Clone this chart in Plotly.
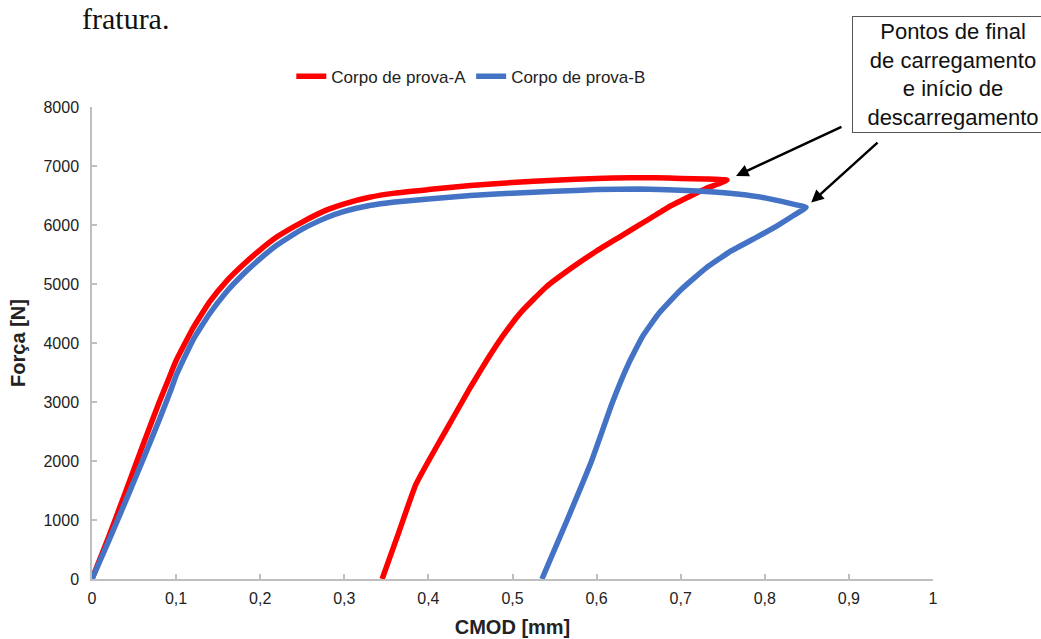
import plotly.graph_objects as go

# CMOD [mm] vs force [N] for the two specimens (loading branch, then unloading branch)
a_load_x = [0, 0.02, 0.04, 0.06, 0.08, 0.09, 0.1, 0.12, 0.14, 0.16, 0.18, 0.2, 0.22, 0.25,
            0.28, 0.3, 0.33, 0.36, 0.4, 0.45, 0.5, 0.55, 0.6, 0.64, 0.67, 0.7, 0.73, 0.755]
a_load_y = [0, 720, 1480, 2250, 3000, 3350, 3700, 4250, 4700, 5050, 5330, 5580, 5800, 6050,
            6260, 6360, 6470, 6540, 6600, 6670, 6720, 6760, 6790, 6800, 6800, 6790, 6780, 6760]
a_unload_x = [0.755, 0.745, 0.73, 0.71, 0.685, 0.66, 0.63, 0.6, 0.57, 0.54, 0.51, 0.49, 0.47,
              0.45, 0.43, 0.41, 0.385, 0.365, 0.345]
a_unload_y = [6760, 6700, 6620, 6480, 6300, 6080, 5820, 5560, 5270, 4950, 4520, 4150, 3720,
              3250, 2750, 2250, 1600, 800, 0]

b_load_x = [0, 0.02, 0.04, 0.06, 0.08, 0.095, 0.1, 0.12, 0.14, 0.16, 0.18, 0.2, 0.22, 0.25,
            0.28, 0.3, 0.33, 0.36, 0.4, 0.45, 0.5, 0.55, 0.6, 0.65, 0.7, 0.74, 0.77, 0.8,
            0.82, 0.835, 0.849]
b_load_y = [0, 650, 1320, 2000, 2700, 3250, 3450, 4050, 4500, 4870, 5170, 5430, 5660, 5930,
            6130, 6230, 6330, 6390, 6440, 6500, 6540, 6570, 6600, 6610, 6590, 6560, 6520, 6460,
            6400, 6350, 6300]
b_unload_x = [0.849, 0.835, 0.815, 0.79, 0.76, 0.73, 0.70, 0.675, 0.655, 0.638, 0.619,
              0.594, 0.565, 0.535]
b_unload_y = [6300, 6170, 5990, 5790, 5560, 5270, 4900, 4520, 4120, 3650, 3000,
              2000, 1000, 0]

series_names = ["Corpo de prova-A", "Corpo de prova-B"]
series_colors = ["#FF0000", "#4472C4"]
note_lines = ["Pontos de final", "de carregamento", "e início de", "descarregamento"]

FONT = "Liberation Sans, Arial, sans-serif"
AXIS_GREY = "#BFBFBF"

fig = go.Figure()
for name, color, xs, ys in [
    (series_names[0], series_colors[0], a_load_x + a_unload_x[1:], a_load_y + a_unload_y[1:]),
    (series_names[1], series_colors[1], b_load_x + b_unload_x[1:], b_load_y + b_unload_y[1:]),
]:
    fig.add_trace(go.Scatter(
        x=xs, y=ys, mode="lines", name=name,
        line=dict(color=color, width=5.5, shape="spline", smoothing=0.4),
    ))

axis_common = dict(
    showline=True, linecolor=AXIS_GREY, linewidth=1.5,
    ticks="inside", ticklen=5, tickcolor=AXIS_GREY, tickwidth=1.5,
    showgrid=False, zeroline=False, automargin=False,
    tickfont=dict(family=FONT, size=16, color="#222222"),
)

fig.update_layout(
    width=1041, height=639,
    margin=dict(l=92, r=108, t=107, b=60),
    paper_bgcolor="white", plot_bgcolor="white",
    separators=", ",
    showlegend=True,
    legend=dict(
        orientation="h", x=0.451, xanchor="center", y=1.064, yanchor="middle",
        font=dict(family=FONT, size=17, color="#222222"),
        itemwidth=30, bgcolor="rgba(0,0,0,0)",
    ),
    xaxis=dict(
        range=[0, 1], dtick=0.1, tick0=0, ticklabelstandoff=4,
        title=dict(text="<b>CMOD [mm]</b>", font=dict(family=FONT, size=20, color="#222222"),
                   standoff=14),
        **axis_common,
    ),
    yaxis=dict(
        range=[0, 8000], dtick=1000, tick0=0, ticklabelstandoff=8,
        title=dict(text="<b>Força [N]</b>", font=dict(family=FONT, size=20, color="#222222"),
                   standoff=12),
        **axis_common,
    ),
)

# callout box
fig.add_annotation(
    xref="paper", yref="paper", x=(952 - 92) / 840, y=(579 - 74.5) / 472,
    xanchor="center", yanchor="middle",
    text="<br>".join(note_lines), showarrow=False, align="center",
    font=dict(family=FONT, size=22, color="#111111"),
    bordercolor="#555555", borderwidth=1, borderpad=2, bgcolor="white", width=196,
)

# arrows pointing at the load-reversal points
fig.add_annotation(
    x=a_load_x[-1], y=a_load_y[-1], xref="x", yref="y", text="",
    showarrow=True, ax=116, ay=-54, arrowhead=2, arrowsize=1, arrowwidth=2.5,
    arrowcolor="black", standoff=10,
)
fig.add_annotation(
    x=b_load_x[-1], y=b_load_y[-1], xref="x", yref="y", text="",
    showarrow=True, ax=73, ay=-66, arrowhead=2, arrowsize=1, arrowwidth=2.5,
    arrowcolor="black", standoff=7,
)

# trailing caption text from the surrounding page
fig.add_annotation(
    xref="paper", yref="paper", x=(80 - 92) / 840, y=579 / 472,
    xanchor="left", yanchor="top", text="fratura.", showarrow=False,
    font=dict(family="Liberation Serif, Times New Roman, serif", size=30, color="#111111"),
)

fig.write_html("out.html")
